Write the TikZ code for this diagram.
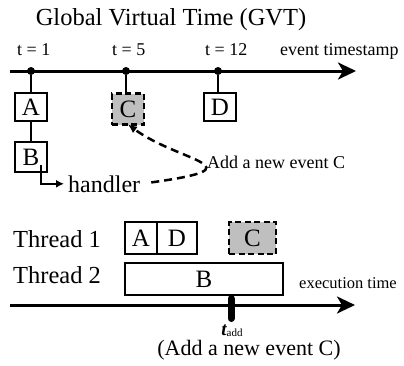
\documentclass[tikz,border=0pt]{standalone}
\usepackage{fontspec}
\setmainfont{Liberation Serif}
\usetikzlibrary{positioning, arrows.meta}

\tikzset{
  evbox/.style={draw, line width=1.5pt, inner sep=0pt, outer sep=0pt, minimum width=32pt, minimum height=28pt, font=\fontsize{25}{25}\selectfont},
  evnew/.style={evbox, fill=gray!50, line width=2.5pt, dash pattern=on 6pt off 3.5pt},
  timeaxis/.style={line width=3pt, -{Stealth[length=18pt, width=17pt, inset=5pt]}},
  evdot/.style={circle, fill, inner sep=0pt, minimum size=8pt},
  lblsmall/.style={font=\fontsize{18}{18}\selectfont, inner sep=0pt},
  lblbig/.style={font=\fontsize{24.5}{24.5}\selectfont, inner sep=0pt},
  dashcurve/.style={line width=2.5pt, dash pattern=on 8pt off 5pt, -{Latex[length=9pt, width=8pt]}},
}

\begin{document}
\begin{tikzpicture}[x=1pt, y=1pt]
  \useasboundingbox (0,0) rectangle (404,-365);

  \node [lblbig, anchor=base] (title) at (171,-25) {Global Virtual Time (GVT)};

  % event timestamp axis
  \coordinate (ts0) at (10,-71);
  \coordinate (ts1) at (356,-71);
  \draw [timeaxis] (ts0) -- (ts1);
  \node [evdot] (t1) at (31,-71) {};
  \node [evdot] (t5) at (126,-71) {};
  \node [evdot] (t12) at (218,-71) {};
  \node [lblsmall, anchor=base west] (l1) at (17,-55) {t = 1};
  \node [lblsmall, anchor=base west] (l5) at (112,-55) {t = 5};
  \node [lblsmall, anchor=base west] (l12) at (205,-55) {t = 12};
  \node [lblsmall, anchor=base west] (ets) at (280,-55) {event timestamp};

  \node [evbox] (A) at (31,-107) {A};
  \node [evnew, minimum height=31pt] (C) at (128,-109) {C};
  \node [evbox] (D) at (220,-107) {D};
  \node [evbox, minimum height=30pt] (B) at (31,-157) {B};

  \draw [line width=1.5pt] (t1) -- (t1 |- A.north);
  \draw [line width=1.5pt] (t5) -- (t5 |- C.north);
  \draw [line width=1.5pt] (t12) -- (t12 |- D.north);
  \draw [line width=1.5pt] (A) -- (B);

  % handler of B adds C
  \node [anchor=base west, inner sep=1pt, font=\fontsize{24}{24}\selectfont] (hd) at (67,-192) {handler};
  \coordinate (hs) at (41,-165);
  \draw [line width=2pt, -{Latex[length=8pt, width=8pt]}, shorten >=3pt] (hs) |- (hd.west);
  \node [lblsmall, anchor=base west] (add) at (207,-168) {Add a new event C};
  \draw [dashcurve, shorten <=10pt] (hd.east) .. controls (262,-167) and (179,-162) .. (C.south);

  % threads
  \node [lblbig, anchor=base west] (th1) at (13,-247) {Thread 1};
  \node [lblbig, anchor=base west] (th2) at (13,-283) {Thread 2};
  \node [evbox, minimum height=32pt] (A1) at (141,-238) {A};
  \node [evbox, minimum height=32pt, minimum width=40pt, right=0pt of A1] (D1) {D};
  \node [evnew, minimum height=32pt, minimum width=47pt] (C1) at (252.5,-238) {C};
  \node [evbox, minimum height=32pt, minimum width=158pt] (B2) at (204,-279) {B};

  % execution time axis
  \coordinate (ex0) at (10,-305);
  \coordinate (ex1) at (355,-305);
  \draw [timeaxis] (ex0) -- (ex1);
  \node [anchor=base west, inner sep=0pt, font=\fontsize{16.5}{16.5}\selectfont] (ext) at (299,-288) {execution time};
  \coordinate (tk0) at (231,-298.5);
  \coordinate (tk1) at (231,-318.5);
  \draw [line width=7pt, line cap=round] (tk0) -- (tk1);
  \node [anchor=base, inner sep=0pt] (tadd) at (232,-335) {\fontsize{19}{19}\selectfont\bfseries\itshape t\raisebox{-1pt}{\fontsize{11}{11}\selectfont\mdseries\upshape add}};
  \node [anchor=base, inner sep=0pt, font=\fontsize{22}{22}\selectfont] (addc) at (249,-355) {(Add a new event C)};
\end{tikzpicture}
\end{document}
